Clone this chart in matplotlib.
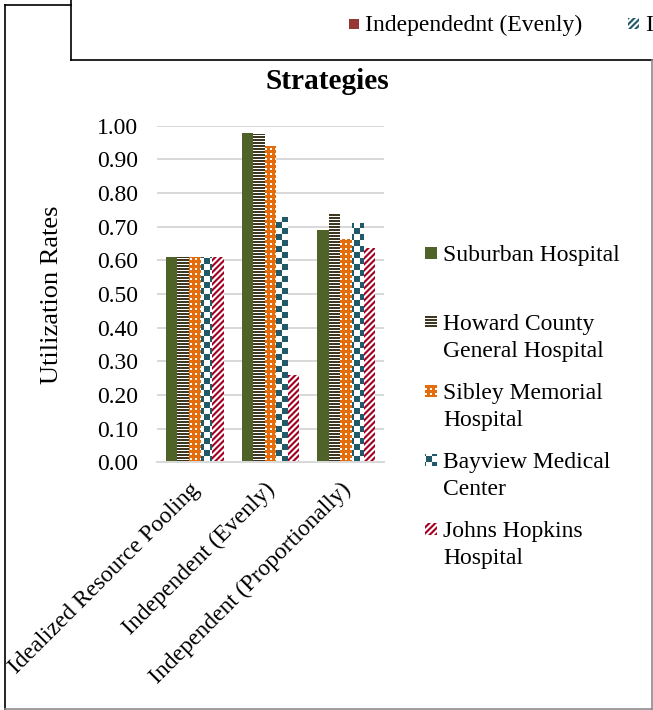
import matplotlib

matplotlib.use('Agg')
import numpy as np
import matplotlib.pyplot as plt
import matplotlib.hatch as mhatch
from matplotlib.path import Path
from matplotlib.lines import Line2D
from matplotlib.patches import Rectangle
from matplotlib.transforms import Affine2D, ScaledTranslation

# data
strategies = ['Idealized Resource Pooling', 'Independent (Evenly)',
              'Independent (Proportionally)']
hospitals = ['Suburban Hospital', 'Howard County\nGeneral Hospital',
             'Sibley Memorial\nHospital', 'Bayview Medical\nCenter',
             'Johns Hopkins\nHospital']
suburban = [0.61, 0.977, 0.689]
howard = [0.61, 0.975, 0.738]
sibley = [0.61, 0.94, 0.664]
bayview = [0.61, 0.73, 0.71]
hopkins = [0.61, 0.26, 0.636]
yticks = [0.0, 0.1, 0.2, 0.3, 0.4, 0.5, 0.6, 0.7, 0.8, 0.9, 1.0]
top_legend = ['Independednt (Evenly)', 'Independent (Proportionally)']

W, H, DPI = 653, 710, 120
CELL = DPI  # hatch tile is one inch


# excel-like fill patterns as custom hatches (filled polygons, in tile pixels)
def make_hatch(char, polys):
    polys = [np.array(p, float) / CELL for p in polys]

    class Pattern(mhatch.HatchPatternBase):
        def __init__(self, hatch, density):
            self.on = char in hatch
            self.num_vertices = 5 * len(polys) if self.on else 0

        def set_vertices_and_codes(self, vertices, codes):
            for i, p in enumerate(polys):
                vertices[5 * i:5 * i + 4] = p
                vertices[5 * i + 4] = p[0]
                codes[5 * i] = Path.MOVETO
                codes[5 * i + 1:5 * i + 4] = Path.LINETO
                codes[5 * i + 4] = Path.CLOSEPOLY
    return Pattern


def sq(x, y, s):
    return [(x, y), (x + s, y), (x + s, y + s), (x, y + s)]


stripes = [[(0, y), (CELL, y), (CELL, y + 2), (0, y + 2)] for y in range(0, CELL, 3)]
dots = [sq(x, y, 2) for x in range(0, CELL, 5) for y in range(0, CELL, 5)]
checks = [sq(6 * i, 6 * j, 6) for i in range(CELL // 6) for j in range(CELL // 6)
          if (i + j) % 2 == 0]
diag = [[(0, c), (CELL, c + CELL), (CELL, c + CELL + 3), (0, c + 3)]
        for c in range(-CELL, CELL, 6)]

mhatch._hatch_types = [make_hatch('-', stripes), make_hatch('.', dots),
                       make_hatch('+', checks), make_hatch('/', diag)]
plt.rcParams['hatch.linewidth'] = 0.0
plt.rcParams['font.family'] = ['Liberation Serif', 'DejaVu Serif']

styles = [
    dict(color='#4F6228', linewidth=0),
    dict(facecolor='white', edgecolor='#3E3823', hatch='-', linewidth=0),
    dict(facecolor='#E46C0A', edgecolor='white', hatch='.', linewidth=0),
    dict(facecolor='white', edgecolor='#215968', hatch='+', linewidth=0),
    dict(facecolor='white', edgecolor='#A50021', hatch='/', linewidth=0),
]
series = [suburban, howard, sibley, bayview, hopkins]

fig = plt.figure(figsize=(W / DPI, H / DPI), dpi=DPI)
px = Affine2D().scale(1 / W, -1 / H).translate(0, 1) + fig.transFigure

ax = fig.add_axes([157 / W, 1 - 462.3 / H, 227 / W, 336.6 / H])
x = np.arange(len(strategies))
bw = 0.153
for i, (vals, st) in enumerate(zip(series, styles)):
    ax.bar(x + (i - 2) * bw, vals, bw, **st)

ax.set_xlim(-0.5, 2.5)
ax.set_ylim(0, 1.0)
ax.set_yticks(yticks, ['%.2f' % v for v in yticks])
ax.grid(axis='y', color='#D9D9D9', linewidth=1.2)
ax.set_axisbelow(True)
for s in ['top', 'right', 'left']:
    ax.spines[s].set_visible(False)
ax.spines['bottom'].set_color('#D9D9D9')
ax.spines['bottom'].set_linewidth(1.2)
ax.tick_params(length=0, labelsize=14.2)
ax.tick_params(axis='y', pad=11.4)
ax.tick_params(axis='x', pad=10)
ax.set_xticks(x, strategies, rotation=45, ha='right', va='top',
              rotation_mode='anchor')
for lbl in ax.get_xticklabels():
    lbl.set_transform(lbl.get_transform() + ScaledTranslation(-6 / DPI, 0, fig.dpi_scale_trans))

fig.text(52, 295, 'Utilization Rates', transform=px, rotation=90,
         ha='center', va='center', fontsize=15.8)
fig.text(327, 89, 'Strategies', transform=px, ha='center', va='baseline',
         fontsize=17.6, fontweight='bold')

# right-hand legend
for i, (name, st) in enumerate(zip(hospitals, styles)):
    base = 261 + 69 * i
    fig.add_artist(Rectangle((425, base - 14), 12, 12, transform=px, **st))
    for k, line in enumerate(name.split('\n')):
        fig.text(443, base + 27 * k, line, transform=px, va='baseline', fontsize=14.2)

# top legend box (cut off at the edge, as in the original)
fig.add_artist(Rectangle((349, 19), 10, 10, transform=px, color='#953735', linewidth=0))
fig.text(365, 31, top_legend[0], transform=px, va='baseline', fontsize=14.2)
fig.add_artist(Rectangle((628, 18), 11, 11, transform=px, facecolor='white',
                         edgecolor='#215968', hatch='/', linewidth=0))
fig.text(646, 31, top_legend[1], transform=px, va='baseline', fontsize=14.2)

# chart borders
black = dict(transform=px, color='black', linewidth=1.0, solid_capstyle='projecting')
grey = dict(transform=px, color='#8C8C8C', linewidth=1.0, solid_capstyle='projecting')
fig.add_artist(Line2D([5, 5], [5, 710], **black))
fig.add_artist(Line2D([5, 71], [5, 5], **black))
fig.add_artist(Line2D([71, 71], [0, 60], **black))
fig.add_artist(Line2D([71, 653], [60, 60], **black))
fig.add_artist(Line2D([652, 652], [60, 708.5], **grey))
fig.add_artist(Line2D([5, 652], [708.5, 708.5], **grey))

fig.savefig('out.png', dpi=DPI)
